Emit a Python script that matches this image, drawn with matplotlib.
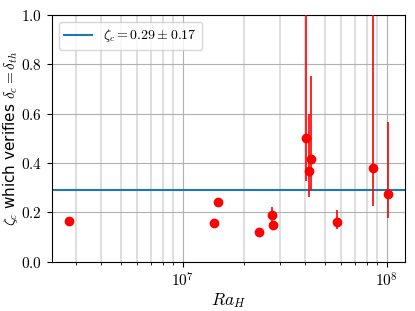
import math

import matplotlib

matplotlib.use("Agg")
import matplotlib.pyplot as plt
from matplotlib.ticker import FuncFormatter, LogLocator, MultipleLocator

plt.rcParams["mathtext.fontset"] = "cm"

# values
ra_h = [2.78e6, 1.42e7, 1.49e7, 2.37e7, 2.73e7, 2.77e7,
        4.02e7, 4.15e7, 4.26e7, 5.69e7, 8.57e7, 1.02e8]
zeta_c = [0.166, 0.157, 0.243, 0.121, 0.188, 0.149,
          0.500, 0.368, 0.416, 0.163, 0.381, 0.274]
err_low = [0.0, 0.0, 0.0, 0.0, 0.03, 0.0,
           0.172, 0.104, 0.127, 0.031, 0.153, 0.097]
err_high = [0.0, 0.0, 0.0, 0.0, 0.036, 0.0,
            0.70, 0.231, 0.337, 0.047, 0.80, 0.294]
zeta_mean = 0.29
zeta_std = 0.17

fig = plt.figure(figsize=(4.15, 3.11), dpi=100)
ax = fig.add_axes([0.125, 0.158, 0.851, 0.794])

ax.axhline(zeta_mean, color="#1f77b4", lw=1.5,
           label=r"$\zeta_c = %.2f \pm %.2f$" % (zeta_mean, zeta_std), zorder=2)
ax.errorbar(ra_h, zeta_c, yerr=[err_low, err_high], fmt="o", color="red",
            ecolor="red", ms=6, elinewidth=1.2, capsize=0, zorder=3)

ax.set_xscale("log")
ax.set_xlim(2.29e6, 1.23e8)
ax.set_ylim(0, 1)
ax.yaxis.set_major_locator(MultipleLocator(0.2))
ax.xaxis.set_major_locator(LogLocator(base=10))
ax.xaxis.set_minor_locator(LogLocator(base=10, subs=range(2, 10)))

ax.xaxis.set_major_formatter(FuncFormatter(lambda v, p: r"$10^{%d}$" % round(math.log10(v))))
ax.xaxis.set_minor_formatter(FuncFormatter(lambda v, p: ""))
ax.yaxis.set_major_formatter(FuncFormatter(lambda v, p: r"$%.1f$" % v))
ax.tick_params(labelsize=11)

ax.grid(True, which="major", color="#b0b0b0", lw=0.8)
ax.grid(True, which="minor", axis="x", color="#d8d8d8", lw=1.2)
ax.set_axisbelow(True)

ax.set_xlabel(r"$Ra_H$", fontsize=12.5, labelpad=1)
ax.set_ylabel(r"$\zeta_c$ which verifies $\delta_c = \delta_{th}$", fontsize=11)
ax.yaxis.set_label_coords(-0.09, 0.5)
ax.legend(loc="upper left", fontsize=10, framealpha=0.8)

fig.savefig("out.png", dpi=100)
